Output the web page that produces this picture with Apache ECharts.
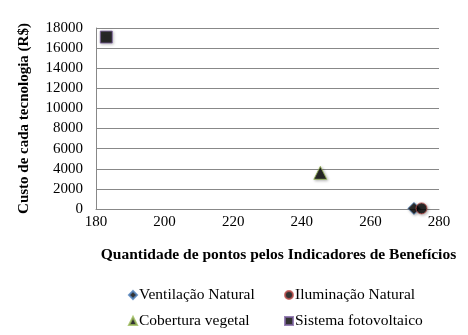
<!DOCTYPE html>
<html>
<head>
<meta charset="utf-8">
<script src="https://cdn.jsdelivr.net/npm/echarts@6/dist/echarts.min.js"></script>
<style>
  html, body { margin: 0; padding: 0; background: #fff; }
  #chart { width: 468px; height: 335px; }
</style>
</head>
<body>
<div id="chart"></div>
<script>
// Points per technology: [benefit score, cost in R$]
const ventilacaoNatural = [[272.7, 60]];
const iluminacaoNatural = [[274.9, 60]];
const coberturaVegetal = [[245.4, 3600]];
const sistemaFotovoltaico = [[183, 17100]];

const xTicks = { min: 180, max: 280, interval: 20 };
const yTicks = { min: 0, max: 18000, interval: 2000 };

const serif = '"Liberation Serif", "Times New Roman", serif';

const chart = echarts.init(document.getElementById('chart'));

function pointSeries(name, data, symbol, size, border) {
  return {
    name: name,
    type: 'scatter',
    data: data,
    symbol: symbol,
    symbolSize: size,
    itemStyle: {
      color: '#000',
      borderColor: border,
      borderWidth: 1,
      shadowColor: 'rgba(0,0,0,0.35)',
      shadowBlur: 3,
      shadowOffsetX: 1,
      shadowOffsetY: 1
    },
    emphasis: { disabled: true }
  };
}

// One legend entry per block, arranged in a 2x2 layout
function legendItem(name, icon, left, top) {
  return {
    left: left, top: top,
    padding: 0,
    itemWidth: 8, itemHeight: 8,
    textStyle: { fontFamily: serif, fontSize: 15.5, color: '#000', padding: [0, 0, 0, -3] },
    data: [{ name: name, icon: icon }]
  };
}

chart.setOption({
  animation: false,
  backgroundColor: '#fff',
  grid: { left: 96, right: 29, top: 28, bottom: 126 },
  xAxis: {
    type: 'value',
    min: xTicks.min, max: xTicks.max, interval: xTicks.interval,
    name: 'Quantidade de pontos pelos Indicadores de Benefícios',
    nameLocation: 'middle',
    nameGap: 38,
    nameTextStyle: { fontFamily: serif, fontWeight: 'bold', fontSize: 15.5, color: '#000', padding: [0, 0, 0, 22] },
    axisLine: { lineStyle: { color: '#888', width: 1 } },
    axisTick: { show: false },
    splitLine: { show: false },
    axisLabel: { fontFamily: serif, fontSize: 15, color: '#000', margin: 6, formatter: v => String(v) }
  },
  yAxis: {
    type: 'value',
    min: yTicks.min, max: yTicks.max, interval: yTicks.interval,
    name: 'Custo de cada tecnologia (R$)',
    nameLocation: 'middle',
    nameGap: 64,
    nameTextStyle: { fontFamily: serif, fontWeight: 'bold', fontSize: 15, color: '#000' },
    axisLine: { show: true, lineStyle: { color: '#888', width: 1 } },
    axisTick: { show: false },
    splitLine: { show: true, lineStyle: { color: '#888', width: 1 } },
    axisLabel: { fontFamily: serif, fontSize: 15, color: '#000', margin: 13, formatter: v => String(v) }
  },
  legend: [
    legendItem('Ventilação Natural', 'diamond', 128, 287),
    legendItem('Iluminação Natural', 'circle', 284, 287),
    legendItem('Cobertura vegetal', 'triangle', 128, 313),
    legendItem('Sistema fotovoltaico', 'rect', 284, 313)
  ],
  series: [
    pointSeries('Ventilação Natural', ventilacaoNatural, 'diamond', 12, '#4f81bd'),
    pointSeries('Iluminação Natural', iluminacaoNatural, 'circle', 11, '#c0504d'),
    pointSeries('Cobertura vegetal', coberturaVegetal, 'triangle', 13, '#9bbb59'),
    pointSeries('Sistema fotovoltaico', sistemaFotovoltaico, 'rect', 12, '#8064a2')
  ]
});
</script>
</body>
</html>
